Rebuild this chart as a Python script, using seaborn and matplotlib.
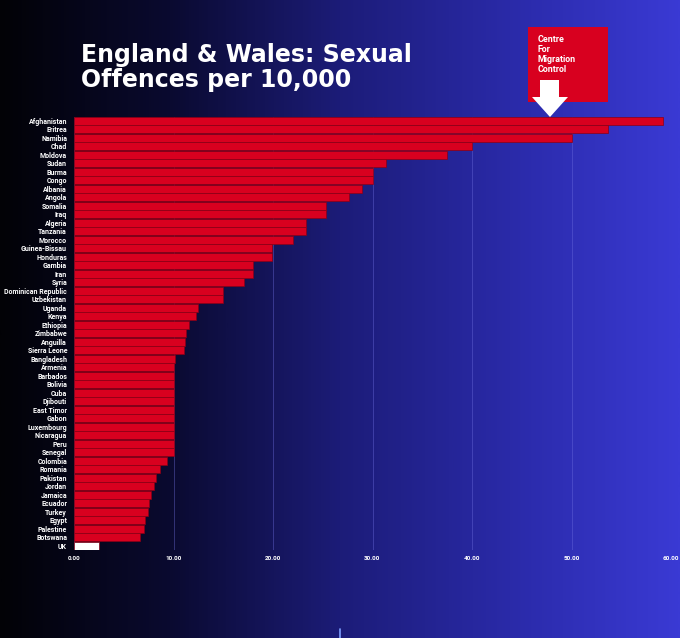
import numpy as np
import pandas as pd
import matplotlib
matplotlib.use("Agg")
import matplotlib.pyplot as plt
import seaborn as sns
from matplotlib.colors import LinearSegmentedColormap
from matplotlib.patches import Rectangle, Polygon

sns.set_style("white")
plt.rcParams['font.family'] = ['Roboto', 'DejaVu Sans']

countries = ["Afghanistan", "Eritrea", "Namibia", "Chad", "Moldova", "Sudan", "Burma",
             "Congo", "Albania", "Angola", "Somalia", "Iraq", "Algeria", "Tanzania",
             "Morocco", "Guinea-Bissau", "Honduras", "Gambia", "Iran", "Syria",
             "Dominican Republic", "Uzbekistan", "Uganda", "Kenya", "Ethiopia",
             "Zimbabwe", "Anguilla", "Sierra Leone", "Bangladesh", "Armenia", "Barbados",
             "Bolivia", "Cuba", "Djibouti", "East Timor", "Gabon", "Luxembourg",
             "Nicaragua", "Peru", "Senegal", "Colombia", "Romania", "Pakistan", "Jordan",
             "Jamaica", "Ecuador", "Turkey", "Egypt", "Palestine", "Botswana", "UK"]
offences = [59.2, 53.7, 50.0, 40.0, 37.5, 31.4, 30.1,
            30.0, 28.9, 27.6, 25.3, 25.3, 23.3, 23.3,
            22.0, 19.9, 19.9, 18.0, 18.0, 17.1,
            15.0, 15.0, 12.5, 12.3, 11.6,
            11.3, 11.2, 11.1, 10.2, 10.0, 10.0,
            10.0, 10.0, 10.0, 10.0, 10.0, 10.0,
            10.0, 10.0, 10.0, 9.3, 8.6, 8.2, 8.0,
            7.7, 7.5, 7.4, 7.1, 7.0, 6.6, 2.5]
x_ticks = [0, 10, 20, 30, 40, 50, 60]

df = pd.DataFrame({"country": countries, "rate": offences})
bar_colors = {c: ("white" if c == "UK" else "#d8001f") for c in countries}

W, H = 680, 638
fig = plt.figure(figsize=(W / 100, H / 100), dpi=100)

# background gradient
bg = fig.add_axes([0, 0, 1, 1])
cmap = LinearSegmentedColormap.from_list("bg", ["#020206", "#0a0a30", "#1c1c78", "#2a2aa8", "#3a3ad4"])
grad = np.linspace(0, 1, 512).reshape(1, -1)
bg.imshow(grad, aspect="auto", cmap=cmap, extent=[0, 1, 0, 1])
bg.set_axis_off()

ax = fig.add_axes([74 / W, 1 - 550 / H, (671 - 74) / W, (550 - 116.5) / H])
ax.set_facecolor("none")
sns.barplot(data=df, y="country", x="rate", hue="country", palette=bar_colors,
            legend=False, orient="h", width=0.9, saturation=1, edgecolor="#8a0016",
            linewidth=0.5, ax=ax, zorder=3)
ax.set_xlim(0, 60)
ax.set_xticks(x_ticks)
ax.set_xticklabels([f"{t:.2f}" for t in x_ticks], fontsize=4.6, fontweight="bold", color="white")
ax.tick_params(axis="y", labelsize=5.0, colors="white", length=0, pad=5)
ax.tick_params(axis="x", length=0, pad=4)
for lbl in ax.get_yticklabels():
    lbl.set_fontweight("bold")
ax.set_xlabel("")
ax.set_ylabel("")
ax.grid(axis="x", color="#7070e0", linewidth=0.5, alpha=0.55, zorder=0)
ax.grid(axis="y", visible=False)
sns.despine(ax=ax, left=True, bottom=True)

# title
title_font = ['DejaVu Sans']
fig.text(81 / W, 1 - 62 / H, "England & Wales: Sexual", fontsize=17, fontweight="bold",
         color="white", va="baseline", family=title_font)
fig.text(81 / W, 1 - 87 / H, "Offences per 10,000", fontsize=17, fontweight="bold",
         color="white", va="baseline", family=title_font)

# logo
fig.patches.append(Rectangle((528 / W, 1 - 102 / H), 80 / W, 75 / H, transform=fig.transFigure,
                             facecolor="#d8001f", edgecolor="none", zorder=5))
fig.text(538 / W, 1 - 35 / H, "Centre\nFor\nMigration\nControl", fontsize=6.4, fontweight="bold",
         color="white", va="top", ha="left", linespacing=1.15, zorder=6)
arrow_px = [(540, 80), (559, 80), (559, 97), (568, 97), (550, 117), (532, 97), (540, 97)]
fig.patches.append(Polygon([(x / W, 1 - y / H) for x, y in arrow_px], closed=True,
                           transform=fig.transFigure, facecolor="white", edgecolor="none",
                           zorder=7))

# small marker at bottom
fig.add_artist(plt.Line2D([340 / W, 340 / W], [0, 9 / H], transform=fig.transFigure,
                          color="#7fa0ff", linewidth=1.2))

fig.savefig("out.png", dpi=100)
